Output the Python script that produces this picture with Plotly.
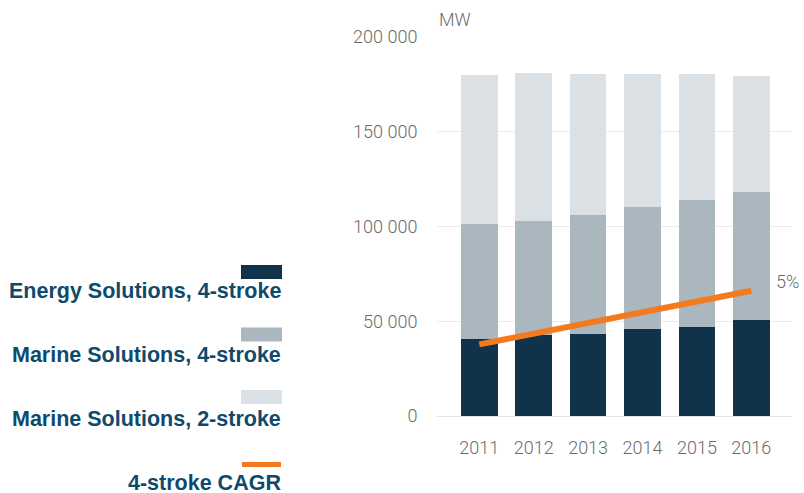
import plotly.graph_objects as go

years = ["2011", "2012", "2013", "2014", "2015", "2016"]
energy_4s = [40600, 42700, 43200, 45900, 46900, 50600]
marine_4s = [60600, 60100, 62800, 64300, 67000, 67500]
marine_2s = [78600, 78100, 74300, 70100, 66400, 61200]
cagr_years = ["2011", "2016"]
cagr_values = [37800, 66100]
cagr_label = "5%"
y_ticks = [0, 50000, 100000, 150000, 200000]
y_ticktext = ["0", "50 000", "100 000", "150 000", "200 000"]
legend_names = ["Energy Solutions, 4-stroke", "Marine Solutions, 4-stroke",
                "Marine Solutions, 2-stroke", "4-stroke CAGR"]

C_DARK = "#10324a"
C_MID = "#aab7be"
C_LIGHT = "#dbe0e4"
C_ORANGE = "#f47a20"
C_TEXT = "#0e4a6b"
C_AXIS = "#6b6b6b"

W, H = 804, 493
L, R, T, B = 437, 12, 37, 77
PW, PH = W - L - R, H - T - B

def px(x):
    return (x - L) / PW

def py(y):
    return (H - B - y) / PH

AXFONT = dict(family="Roboto", size=18, color=C_AXIS, weight=300)

fig = go.Figure()
fig.add_bar(x=years, y=energy_4s, marker_color=C_DARK, name=legend_names[0])
fig.add_bar(x=years, y=marine_4s, marker_color=C_MID, name=legend_names[1])
fig.add_bar(x=years, y=marine_2s, marker_color=C_LIGHT, name=legend_names[2])
fig.add_scatter(x=cagr_years, y=cagr_values, mode="lines",
                line=dict(color=C_ORANGE, width=6), name=legend_names[3])

fig.update_traces(marker_line_width=0, selector=dict(type="bar"))

annotations = [
    dict(text="MW", xref="paper", yref="paper", x=0, y=py(19), xanchor="left",
         yanchor="middle", showarrow=False, font=AXFONT),
    dict(text=cagr_label, xref="x", yref="paper", x=5, xshift=23, y=py(281),
         xanchor="left", yanchor="middle", showarrow=False, font=AXFONT),
]
shapes = []
sw_colors = [C_DARK, C_MID, C_LIGHT]
for i, name in enumerate(legend_names):
    top = 265 + 62.5 * i
    if i < 3:
        shapes.append(dict(type="rect", xref="paper", yref="paper",
                           x0=px(241), x1=px(282), y0=py(top), y1=py(top + 14),
                           fillcolor=sw_colors[i], line_width=0))
    else:
        shapes.append(dict(type="rect", xref="paper", yref="paper",
                           x0=px(242), x1=px(281), y0=py(462), y1=py(467),
                           fillcolor=C_ORANGE, line_width=0))
    annotations.append(dict(text=name, xref="paper", yref="paper",
                            x=px(283), y=py(291 + 64 * i), xanchor="right",
                            yanchor="middle", showarrow=False,
                            font=dict(family="Liberation Sans", size=21.5,
                                      color=C_TEXT, weight="bold")))

fig.update_layout(
    width=W, height=H,
    margin=dict(l=L, r=R, t=T, b=B, pad=0),
    paper_bgcolor="white", plot_bgcolor="white",
    barmode="stack", bargap=0.325,
    showlegend=False,
    hovermode=False,
    annotations=annotations,
    shapes=shapes,
    xaxis=dict(type="category", range=[-0.778, 5.748], showgrid=False,
               showline=False, zeroline=False, ticks="outside", ticklen=15,
               tickcolor="rgba(0,0,0,0)", tickfont=AXFONT),
    yaxis=dict(range=[0, 200000], tickvals=y_ticks, ticktext=y_ticktext,
               showgrid=True, gridcolor="#ebebeb", gridwidth=1,
               zeroline=True, zerolinecolor="#e3e3e3", zerolinewidth=1,
               showline=False, ticks="outside", ticklen=15,
               tickcolor="rgba(0,0,0,0)", tickfont=AXFONT),
)

fig.write_html("out.html", config={"displayModeBar": False},
               post_script="document.body.style.margin='0';document.body.style.overflow='hidden';")
